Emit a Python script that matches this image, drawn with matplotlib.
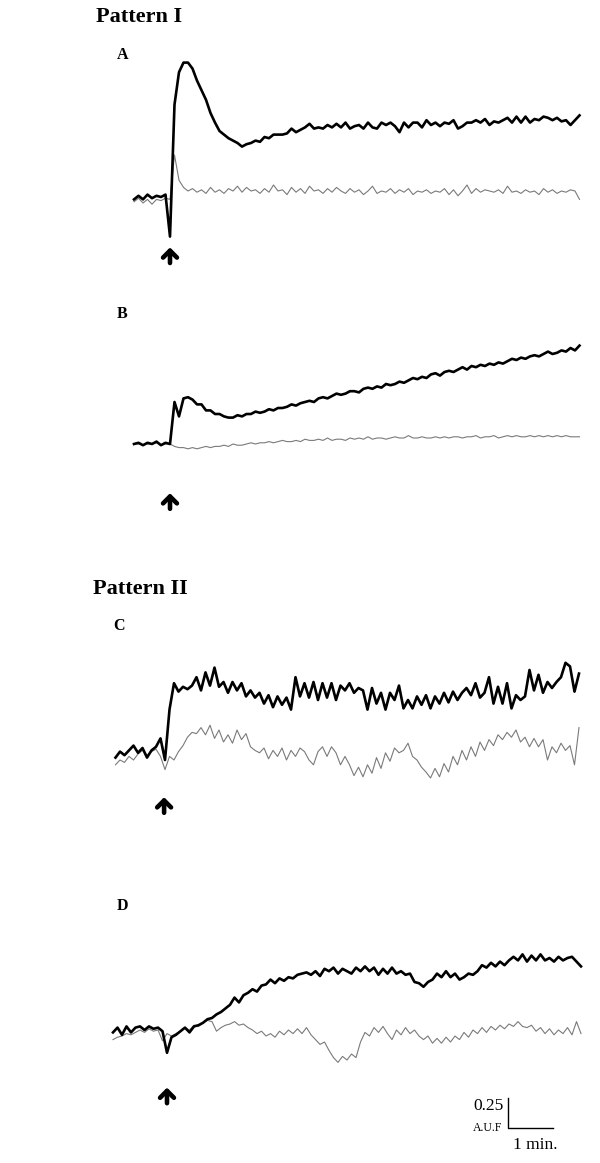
import numpy as np
import matplotlib
matplotlib.use('Agg')
import matplotlib.pyplot as plt

plt.rcParams['font.family'] = ['Liberation Serif', 'DejaVu Serif']

# fluorescence traces, A.U.F relative to pre-stimulus baseline, sampled every 0.1 min
# stimulus (arrow) at t = 0
a_start, a_end = -0.8, 9.1
a_black = [-0.02, 0.01, -0.02, 0.02, -0.01, 0.01, 0.00, 0.02, -0.33,
           0.77, 1.04, 1.12, 1.12, 1.07, 0.97, 0.89, 0.81, 0.70, 0.62,
           0.55, 0.52, 0.49, 0.47, 0.45, 0.42, 0.44, 0.45, 0.47, 0.46,
           0.50, 0.49, 0.52, 0.52, 0.52, 0.53, 0.57, 0.54, 0.56, 0.58,
           0.61, 0.57, 0.58, 0.57, 0.60, 0.58, 0.61, 0.58, 0.62, 0.57,
           0.59, 0.60, 0.57, 0.62, 0.58, 0.57, 0.62, 0.60, 0.62, 0.59,
           0.54, 0.62, 0.58, 0.62, 0.62, 0.58, 0.64, 0.60, 0.62, 0.59,
           0.62, 0.61, 0.64, 0.57, 0.59, 0.62, 0.62, 0.64, 0.62, 0.65,
           0.60, 0.63, 0.62, 0.64, 0.66, 0.62, 0.67, 0.62, 0.67, 0.62,
           0.65, 0.64, 0.67, 0.66, 0.64, 0.66, 0.63, 0.64, 0.60, 0.64, 0.68]
a_gray = [-0.04, -0.01, -0.05, -0.02, -0.06, -0.02, -0.03, -0.01, -0.02,
          0.35, 0.14, 0.08, 0.05, 0.07, 0.04, 0.06,
          0.03, 0.08, 0.04, 0.06, 0.03, 0.07, 0.05, 0.09, 0.04, 0.08,
          0.05, 0.06, 0.03, 0.07, 0.04, 0.10, 0.05, 0.06, 0.02, 0.08,
          0.04, 0.07, 0.03, 0.09, 0.05, 0.06, 0.03, 0.07, 0.04, 0.08,
          0.05, 0.03, 0.07, 0.04, 0.06, 0.02, 0.05, 0.09, 0.03, 0.05,
          0.04, 0.07, 0.03, 0.06, 0.04, 0.07, 0.02, 0.05, 0.04, 0.06,
          0.03, 0.05, 0.04, 0.07, 0.02, 0.06, 0.01, 0.05, 0.10, 0.03,
          0.07, 0.04, 0.06, 0.05, 0.04, 0.06, 0.03, 0.09, 0.04, 0.05,
          0.03, 0.06, 0.04, 0.05, 0.02, 0.07, 0.04, 0.06, 0.03, 0.05,
          0.04, 0.06, 0.05, -0.02]

b_start, b_end = -0.8, 9.1
b_black = [0.00, 0.01, -0.01, 0.01, 0.00, 0.02, -0.01, 0.01, 0.00,
           0.35, 0.23, 0.38, 0.39, 0.37, 0.33, 0.33, 0.28, 0.28, 0.25,
           0.25, 0.23, 0.22, 0.22, 0.24, 0.23, 0.25, 0.25, 0.27, 0.26,
           0.27, 0.29, 0.28, 0.30, 0.30, 0.31, 0.33, 0.32, 0.34, 0.35,
           0.36, 0.35, 0.38, 0.39, 0.38, 0.40, 0.42, 0.41, 0.42, 0.44,
           0.44, 0.43, 0.46, 0.47, 0.46, 0.48, 0.47, 0.50, 0.49, 0.50,
           0.52, 0.51, 0.53, 0.55, 0.54, 0.56, 0.55, 0.58, 0.59, 0.57,
           0.60, 0.61, 0.60, 0.62, 0.64, 0.62, 0.65, 0.64, 0.66, 0.65,
           0.67, 0.66, 0.68, 0.67, 0.69, 0.71, 0.70, 0.72, 0.71, 0.73,
           0.74, 0.73, 0.75, 0.77, 0.75, 0.76, 0.78, 0.77, 0.80, 0.78, 0.82]
b_gray = [0.00, 0.00, -0.01, 0.00, 0.00, 0.01, -0.01, 0.00, 0.00,
          -0.02, -0.03, -0.03, -0.04, -0.03, -0.04, -0.03, -0.02, -0.03, -0.02,
          -0.02, -0.01, -0.02, 0.00, -0.01, -0.01, 0.00, 0.01, 0.00, 0.01,
          0.01, 0.02, 0.01, 0.02, 0.03, 0.02, 0.02, 0.03, 0.02, 0.04,
          0.03, 0.03, 0.04, 0.03, 0.05, 0.03, 0.04, 0.04, 0.03, 0.05,
          0.04, 0.05, 0.04, 0.06, 0.04, 0.05, 0.05, 0.04, 0.05, 0.06,
          0.05, 0.05, 0.07, 0.05, 0.05, 0.06, 0.05, 0.05, 0.06, 0.05,
          0.06, 0.05, 0.06, 0.06, 0.05, 0.06, 0.06, 0.07, 0.05, 0.06,
          0.06, 0.07, 0.05, 0.06, 0.07, 0.06, 0.07, 0.06, 0.06, 0.07,
          0.06, 0.07, 0.06, 0.07, 0.06, 0.07, 0.06, 0.07, 0.06, 0.06, 0.06]

c_start, c_end = -1.1, 9.2
c_black = [0.02, 0.07, 0.04, 0.08, 0.12, 0.06, 0.10, 0.02, 0.08, 0.11, 0.18, 0.00,
           0.42, 0.64, 0.57, 0.61, 0.59, 0.62, 0.69, 0.58, 0.73, 0.62,
           0.77, 0.61, 0.65, 0.56, 0.65, 0.58, 0.64, 0.53, 0.58, 0.52,
           0.56, 0.47, 0.54, 0.44, 0.53, 0.46, 0.52, 0.42, 0.69, 0.53,
           0.64, 0.52, 0.65, 0.50, 0.64, 0.52, 0.64, 0.50, 0.62, 0.58,
           0.64, 0.56, 0.60, 0.58, 0.42, 0.60, 0.47, 0.56, 0.42, 0.56,
           0.50, 0.62, 0.43, 0.50, 0.43, 0.53, 0.46, 0.54, 0.43, 0.53,
           0.47, 0.56, 0.48, 0.57, 0.50, 0.56, 0.60, 0.54, 0.64, 0.52,
           0.56, 0.69, 0.47, 0.61, 0.47, 0.64, 0.43, 0.54, 0.50, 0.53,
           0.75, 0.58, 0.71, 0.56, 0.65, 0.60, 0.65, 0.69, 0.81, 0.78, 0.57, 0.72]
c_gray = [-0.04, 0.00, -0.02, 0.03, 0.00, 0.05, 0.08, 0.04, 0.07, 0.09, 0.03, -0.08,
          0.03, 0.00, 0.07, 0.12, 0.19, 0.23, 0.22, 0.27, 0.21, 0.29,
          0.18, 0.25, 0.15, 0.21, 0.14, 0.25, 0.17, 0.22, 0.11, 0.08,
          0.06, 0.10, 0.01, 0.08, 0.03, 0.10, 0.00, 0.08, 0.03, 0.10,
          0.07, 0.00, -0.04, 0.07, 0.11, 0.03, 0.11, 0.06, -0.04, 0.03,
          -0.04, -0.13, -0.06, -0.14, -0.04, -0.11, 0.02, -0.07, 0.06, -0.01,
          0.10, 0.06, 0.08, 0.14, 0.03, 0.00, -0.06, -0.10, -0.15, -0.07,
          -0.14, -0.03, -0.10, 0.03, -0.04, 0.08, 0.00, 0.11, 0.03, 0.15,
          0.08, 0.17, 0.12, 0.21, 0.17, 0.23, 0.19, 0.25, 0.15, 0.19,
          0.11, 0.18, 0.11, 0.17, 0.00, 0.11, 0.06, 0.14, 0.08, 0.12, -0.04, 0.27]

d_start, d_end = -1.2, 9.2
d_black = [-0.02, 0.02, -0.04, 0.03, -0.02, 0.02, 0.03, 0.00, 0.03, 0.01, 0.02, -0.01, -0.19,
           -0.06, -0.04, -0.01, 0.02, -0.02, 0.03, 0.04, 0.06, 0.09, 0.10,
           0.13, 0.15, 0.18, 0.21, 0.27, 0.23, 0.29, 0.31, 0.34, 0.32,
           0.37, 0.38, 0.42, 0.39, 0.43, 0.41, 0.44, 0.43, 0.46, 0.47,
           0.48, 0.46, 0.49, 0.45, 0.51, 0.49, 0.52, 0.47, 0.51, 0.49,
           0.47, 0.52, 0.49, 0.53, 0.49, 0.52, 0.46, 0.51, 0.47, 0.52,
           0.47, 0.49, 0.46, 0.47, 0.40, 0.39, 0.36, 0.40, 0.42, 0.47,
           0.44, 0.49, 0.44, 0.47, 0.42, 0.44, 0.47, 0.46, 0.49, 0.54,
           0.52, 0.56, 0.53, 0.57, 0.54, 0.58, 0.61, 0.58, 0.63, 0.57,
           0.62, 0.58, 0.63, 0.58, 0.60, 0.57, 0.61, 0.58, 0.60, 0.61, 0.57, 0.53]
d_gray = [-0.08, -0.06, -0.05, -0.03, -0.04, -0.02, 0.00, -0.02, 0.01, -0.01, 0.00, -0.09, -0.03,
          -0.05, -0.03, -0.01, 0.02, 0.00, 0.04, 0.03, 0.06, 0.08, 0.07,
          -0.01, 0.02, 0.04, 0.05, 0.07, 0.04, 0.05, 0.02, 0.00, -0.03,
          -0.01, -0.05, -0.03, -0.06, -0.01, -0.04, 0.00, -0.03, 0.01, -0.03,
          0.02, -0.04, -0.08, -0.12, -0.10, -0.17, -0.23, -0.27, -0.22, -0.25,
          -0.20, -0.23, -0.10, -0.02, -0.05, 0.02, -0.02, 0.03, -0.03, -0.08,
          0.00, -0.04, 0.02, -0.03, 0.00, -0.05, -0.08, -0.05, -0.11, -0.07,
          -0.11, -0.06, -0.10, -0.05, -0.08, -0.02, -0.06, 0.00, -0.03, 0.02,
          -0.02, 0.03, 0.00, 0.04, 0.01, 0.05, 0.03, 0.07, 0.03, 0.02,
          0.04, -0.01, 0.02, -0.03, 0.01, -0.04, 0.00, -0.03, 0.02, -0.04, 0.07, -0.03]

W, H = 600, 1163
PX_MIN = 45.0    # pixels per minute
PX_AUF = 120.0   # pixels per A.U.F

fig = plt.figure(figsize=(W / 100, H / 100), dpi=100)


def panel(top, bottom, x0, y0):
    # axes spanning the full width; x0/y0 = pixel of stimulus time / baseline
    ax = fig.add_axes([0, 1 - bottom / H, 1, (bottom - top) / H])
    ax.set_xlim(-x0 / PX_MIN, (W - x0) / PX_MIN)
    ax.set_ylim((y0 - bottom) / PX_AUF, (y0 - top) / PX_AUF)
    ax.axis('off')
    return ax


def traces(ax, start, end, black, gray):
    tb = np.linspace(start, end, len(black))
    tg = np.linspace(start, end, len(gray))
    ax.plot(tg, gray, color='#7a7a7a', lw=0.8, zorder=1)
    ax.plot(tb, black, color='black', lw=1.9, zorder=2)


def arrow(ax, t, tip, tail):
    ax.annotate('', xy=(t, tip), xytext=(t, tail),
                arrowprops=dict(arrowstyle='->,head_length=0.5,head_width=0.5',
                                lw=3.3, color='black', shrinkA=0, shrinkB=0))


def label(x, y, s, size):
    fig.text(x / W, 1 - y / H, s, fontsize=size, fontweight='bold',
             ha='left', va='center')


ax_a = panel(30, 285, 170, 197)
traces(ax_a, a_start, a_end, a_black, a_gray)
arrow(ax_a, 0.0, -0.42, -0.55)

ax_b = panel(285, 560, 170, 444)
traces(ax_b, b_start, b_end, b_black, b_gray)
arrow(ax_b, 0.0, -0.41, -0.54)

ax_c = panel(600, 880, 165, 760)
traces(ax_c, c_start, c_end, c_black, c_gray)
arrow(ax_c, -0.02, -0.31, -0.44)

ax_d = panel(880, 1163, 167, 1030)
traces(ax_d, d_start, d_end, d_black, d_gray)
arrow(ax_d, 0.0, -0.48, -0.61)

# scale bar: 0.25 A.U.F x 1 min
sx, sy = 7.58, -0.817
ax_d.plot([sx, sx, sx + 1.0], [sy + 0.25, sy, sy], color='black', lw=1.0)
ax_d.text(sx - 0.1, sy + 0.18, '0.25', fontsize=12.5, ha='right', va='center')
ax_d.text(sx - 0.12, sy + 0.0, 'A.U.F', fontsize=8.5, ha='right', va='center')
ax_d.text(sx + 0.6, sy - 0.14, '1 min.', fontsize=12.5, ha='center', va='center')

label(96, 17, 'Pattern I', 16)
label(117, 55, 'A', 11.5)
label(117, 314, 'B', 11.5)
label(93, 589, 'Pattern II', 16)
label(113, 626, 'C', 11.5)
label(117, 906, 'D', 11.5)

fig.savefig('out.png', dpi=100)
